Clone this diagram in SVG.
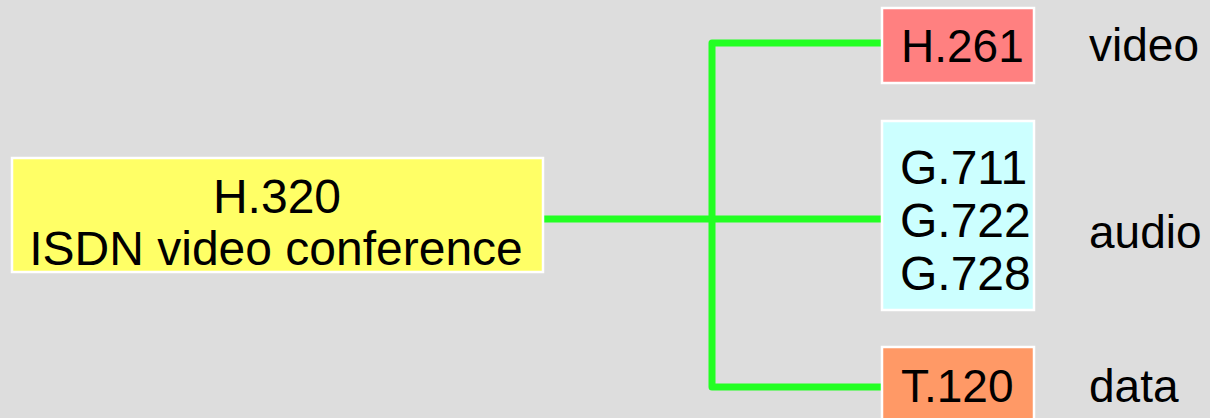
<svg xmlns="http://www.w3.org/2000/svg" width="1210" height="418" viewBox="0 0 1210 418">
<style>
.box{stroke:#ffffff;stroke-width:2.5}
.t{font-family:"Liberation Sans",Arial,sans-serif;font-size:46px;fill:#000}
.big{font-size:48px}
.conn{fill:none;stroke:#22ff22;stroke-width:7;stroke-linejoin:round;stroke-linecap:butt}
</style>
<rect width="1210" height="418" fill="#dddddd"/>
<g id="connectors">
<path class="conn" d="M882,43 H712 V387 H882"/>
<path class="conn" d="M543,219 H882"/>
</g>
<g id="h320">
<rect class="box" x="12" y="158" width="531" height="114" fill="#ffff66"/>
<text class="t big" x="277" y="213" text-anchor="middle">H.320</text>
<text class="t big" x="276" y="265" text-anchor="middle">ISDN video conference</text>
</g>
<g id="h261">
<rect class="box" x="882" y="8" width="152" height="75" fill="#ff8080"/>
<text class="t" x="901" y="62">H.261</text>
</g>
<g id="g7xx">
<rect class="box" x="882" y="121" width="152" height="189" fill="#ccffff"/>
<text class="t big" x="900" y="184">G.711</text>
<text class="t big" x="900" y="237">G.722</text>
<text class="t big" x="900" y="290">G.728</text>
</g>
<g id="t120">
<rect class="box" x="882" y="347" width="152" height="80" fill="#ff9966"/>
<text class="t" x="901" y="402">T.120</text>
</g>
<g id="labels">
<text class="t" x="1089" y="61">video</text>
<text class="t" x="1089" y="248">audio</text>
<text class="t" x="1089" y="402">data</text>
</g>
</svg>
